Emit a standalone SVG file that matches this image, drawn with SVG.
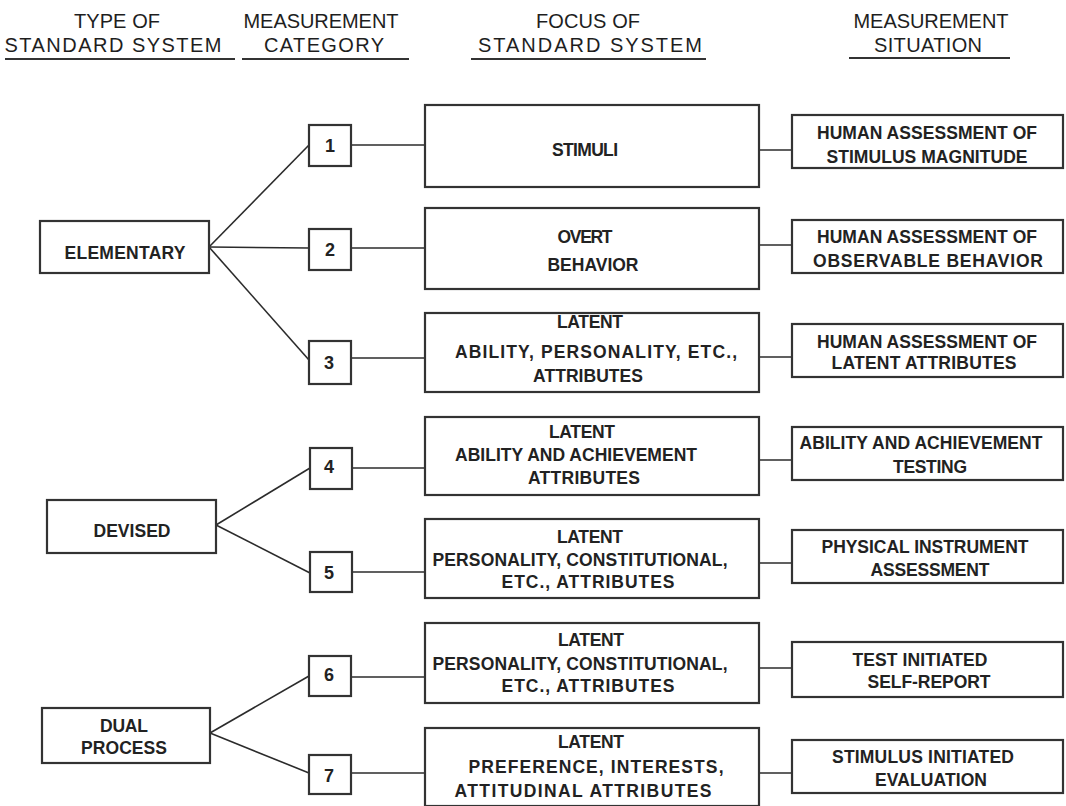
<svg xmlns="http://www.w3.org/2000/svg" width="1066" height="806" viewBox="0 0 1066 806">
<style>
.bg{fill:#fff}
.box{fill:#fff;stroke:#333;stroke-width:2.2}
.ln{stroke:#2b2b2b;stroke-width:1.6;fill:none}
.ul{stroke:#333;stroke-width:2.2}
.h{font-family:"Liberation Sans",Arial,sans-serif;font-size:20px;fill:#1e1e1e;text-anchor:middle}
.t{font-family:"Liberation Sans",Arial,sans-serif;font-size:17.5px;font-weight:bold;fill:#222;text-anchor:middle}
.n{font-family:"Liberation Sans",Arial,sans-serif;font-size:18px;font-weight:bold;fill:#222;text-anchor:middle}
</style>
<rect class="bg" x="0" y="0" width="1066" height="806"/>
<g id="headers">
<text class="h" x="117" y="28" textLength="86" lengthAdjust="spacing">TYPE OF</text>
<text class="h" x="113" y="52" textLength="217" lengthAdjust="spacing">STANDARD SYSTEM</text>
<line class="ul" x1="5" y1="59" x2="235" y2="59"/>
<text class="h" x="321" y="28" textLength="155" lengthAdjust="spacing">MEASUREMENT</text>
<text class="h" x="324" y="52" textLength="120" lengthAdjust="spacing">CATEGORY</text>
<line class="ul" x1="242" y1="59" x2="409" y2="59"/>
<text class="h" x="588" y="28" textLength="104" lengthAdjust="spacing">FOCUS OF</text>
<text class="h" x="590" y="52" textLength="224" lengthAdjust="spacing">STANDARD SYSTEM</text>
<line class="ul" x1="471" y1="59" x2="706" y2="59"/>
<text class="h" x="931" y="28" textLength="155" lengthAdjust="spacing">MEASUREMENT</text>
<text class="h" x="928" y="52" textLength="108" lengthAdjust="spacing">SITUATION</text>
<line class="ul" x1="849" y1="58" x2="1010" y2="58"/>
</g>
<g id="connectors">
<line class="ln" x1="209" y1="247" x2="309" y2="145"/>
<line class="ln" x1="209" y1="247" x2="309" y2="248"/>
<line class="ln" x1="209" y1="247" x2="309" y2="360"/>
<line class="ln" x1="216" y1="525" x2="310" y2="468"/>
<line class="ln" x1="216" y1="525" x2="310" y2="573"/>
<line class="ln" x1="210" y1="733" x2="309" y2="676"/>
<line class="ln" x1="210" y1="733" x2="309" y2="773"/>
<line class="ln" x1="351" y1="145" x2="425" y2="145"/>
<line class="ln" x1="351" y1="248" x2="425" y2="248"/>
<line class="ln" x1="351" y1="358" x2="425" y2="358"/>
<line class="ln" x1="352" y1="468" x2="425" y2="468"/>
<line class="ln" x1="352" y1="572" x2="425" y2="572"/>
<line class="ln" x1="351" y1="677" x2="425" y2="677"/>
<line class="ln" x1="351" y1="773" x2="425" y2="773"/>
<line class="ln" x1="759" y1="150" x2="792" y2="150"/>
<line class="ln" x1="759" y1="245" x2="792" y2="245"/>
<line class="ln" x1="759" y1="357" x2="792" y2="357"/>
<line class="ln" x1="759" y1="460" x2="792" y2="460"/>
<line class="ln" x1="759" y1="563" x2="792" y2="563"/>
<line class="ln" x1="759" y1="668" x2="792" y2="668"/>
<line class="ln" x1="759" y1="773" x2="792" y2="773"/>
</g>
<g id="type-elementary">
<rect class="box" x="40" y="221" width="169" height="52"/>
<text class="t" x="125" y="259" textLength="121" lengthAdjust="spacing">ELEMENTARY</text>
</g>
<g id="type-devised">
<rect class="box" x="47" y="500" width="169" height="53"/>
<text class="t" x="132" y="537" textLength="77" lengthAdjust="spacing">DEVISED</text>
</g>
<g id="type-dual">
<rect class="box" x="42" y="708" width="168" height="55"/>
<text class="t" x="124" y="732" textLength="48" lengthAdjust="spacing">DUAL</text>
<text class="t" x="124" y="754" textLength="86" lengthAdjust="spacing">PROCESS</text>
</g>
<g id="cat-1"><rect class="box" x="309" y="125" width="42" height="41"/><text class="n" x="330" y="152">1</text></g>
<g id="cat-2"><rect class="box" x="309" y="229" width="42" height="41"/><text class="n" x="330" y="256">2</text></g>
<g id="cat-3"><rect class="box" x="309" y="341" width="42" height="43"/><text class="n" x="329" y="369">3</text></g>
<g id="cat-4"><rect class="box" x="310" y="448" width="42" height="41"/><text class="n" x="329" y="473">4</text></g>
<g id="cat-5"><rect class="box" x="310" y="552" width="42" height="40"/><text class="n" x="329" y="579">5</text></g>
<g id="cat-6"><rect class="box" x="309" y="656" width="42" height="40"/><text class="n" x="329" y="681">6</text></g>
<g id="cat-7"><rect class="box" x="309" y="755" width="42" height="39"/><text class="n" x="329" y="782">7</text></g>
<g id="focus-1">
<rect class="box" x="425" y="105" width="334" height="82"/>
<text class="t" x="585" y="156" textLength="66" lengthAdjust="spacing">STIMULI</text>
</g>
<g id="focus-2">
<rect class="box" x="425" y="208" width="334" height="81"/>
<text class="t" x="585" y="243" textLength="55" lengthAdjust="spacing">OVERT</text>
<text class="t" x="593" y="271" textLength="91" lengthAdjust="spacing">BEHAVIOR</text>
</g>
<g id="focus-3">
<rect class="box" x="425" y="313" width="334" height="79"/>
<text class="t" x="590" y="328" textLength="66" lengthAdjust="spacing">LATENT</text>
<text class="t" x="596" y="358" textLength="282" lengthAdjust="spacing">ABILITY, PERSONALITY, ETC.,</text>
<text class="t" x="588" y="382" textLength="110" lengthAdjust="spacing">ATTRIBUTES</text>
</g>
<g id="focus-4">
<rect class="box" x="425" y="417" width="334" height="78"/>
<text class="t" x="582" y="438" textLength="66" lengthAdjust="spacing">LATENT</text>
<text class="t" x="576" y="461" textLength="242" lengthAdjust="spacing">ABILITY AND ACHIEVEMENT</text>
<text class="t" x="584" y="484" textLength="112" lengthAdjust="spacing">ATTRIBUTES</text>
</g>
<g id="focus-5">
<rect class="box" x="425" y="519" width="334" height="79"/>
<text class="t" x="590" y="543" textLength="66" lengthAdjust="spacing">LATENT</text>
<text class="t" x="580" y="566" textLength="295" lengthAdjust="spacing">PERSONALITY, CONSTITUTIONAL,</text>
<text class="t" x="588" y="588" textLength="173" lengthAdjust="spacing">ETC., ATTRIBUTES</text>
</g>
<g id="focus-6">
<rect class="box" x="425" y="623" width="334" height="80"/>
<text class="t" x="591" y="646" textLength="66" lengthAdjust="spacing">LATENT</text>
<text class="t" x="580" y="670" textLength="295" lengthAdjust="spacing">PERSONALITY, CONSTITUTIONAL,</text>
<text class="t" x="588" y="692" textLength="173" lengthAdjust="spacing">ETC., ATTRIBUTES</text>
</g>
<g id="focus-7">
<rect class="box" x="425" y="728" width="334" height="78"/>
<text class="t" x="591" y="748" textLength="66" lengthAdjust="spacing">LATENT</text>
<text class="t" x="596" y="773" textLength="255" lengthAdjust="spacing">PREFERENCE, INTERESTS,</text>
<text class="t" x="583" y="797" textLength="257" lengthAdjust="spacing">ATTITUDINAL  ATTRIBUTES</text>
</g>
<g id="situation-1">
<rect class="box" x="792" y="115" width="271" height="53"/>
<text class="t" x="927" y="139" textLength="220" lengthAdjust="spacing">HUMAN ASSESSMENT OF</text>
<text class="t" x="927" y="163" textLength="201" lengthAdjust="spacing">STIMULUS MAGNITUDE</text>
</g>
<g id="situation-2">
<rect class="box" x="792" y="220" width="271" height="53"/>
<text class="t" x="927" y="243" textLength="220" lengthAdjust="spacing">HUMAN ASSESSMENT OF</text>
<text class="t" x="928" y="267" textLength="230" lengthAdjust="spacing">OBSERVABLE  BEHAVIOR</text>
</g>
<g id="situation-3">
<rect class="box" x="792" y="324" width="271" height="53"/>
<text class="t" x="927" y="348" textLength="220" lengthAdjust="spacing">HUMAN ASSESSMENT OF</text>
<text class="t" x="924" y="369" textLength="185" lengthAdjust="spacing">LATENT ATTRIBUTES</text>
</g>
<g id="situation-4">
<rect class="box" x="792" y="427" width="271" height="53"/>
<text class="t" x="921" y="449" textLength="243" lengthAdjust="spacing">ABILITY AND ACHIEVEMENT</text>
<text class="t" x="930" y="473" textLength="74" lengthAdjust="spacing">TESTING</text>
</g>
<g id="situation-5">
<rect class="box" x="792" y="530" width="271" height="53"/>
<text class="t" x="925" y="553" textLength="207" lengthAdjust="spacing">PHYSICAL INSTRUMENT</text>
<text class="t" x="930" y="576" textLength="119" lengthAdjust="spacing">ASSESSMENT</text>
</g>
<g id="situation-6">
<rect class="box" x="792" y="642" width="271" height="55"/>
<text class="t" x="920" y="666" textLength="135" lengthAdjust="spacing">TEST INITIATED</text>
<text class="t" x="929" y="688" textLength="123" lengthAdjust="spacing">SELF-REPORT</text>
</g>
<g id="situation-7">
<rect class="box" x="792" y="740" width="271" height="53"/>
<text class="t" x="923" y="763" textLength="182" lengthAdjust="spacing">STIMULUS INITIATED</text>
<text class="t" x="931" y="786" textLength="112" lengthAdjust="spacing">EVALUATION</text>
</g>
</svg>
